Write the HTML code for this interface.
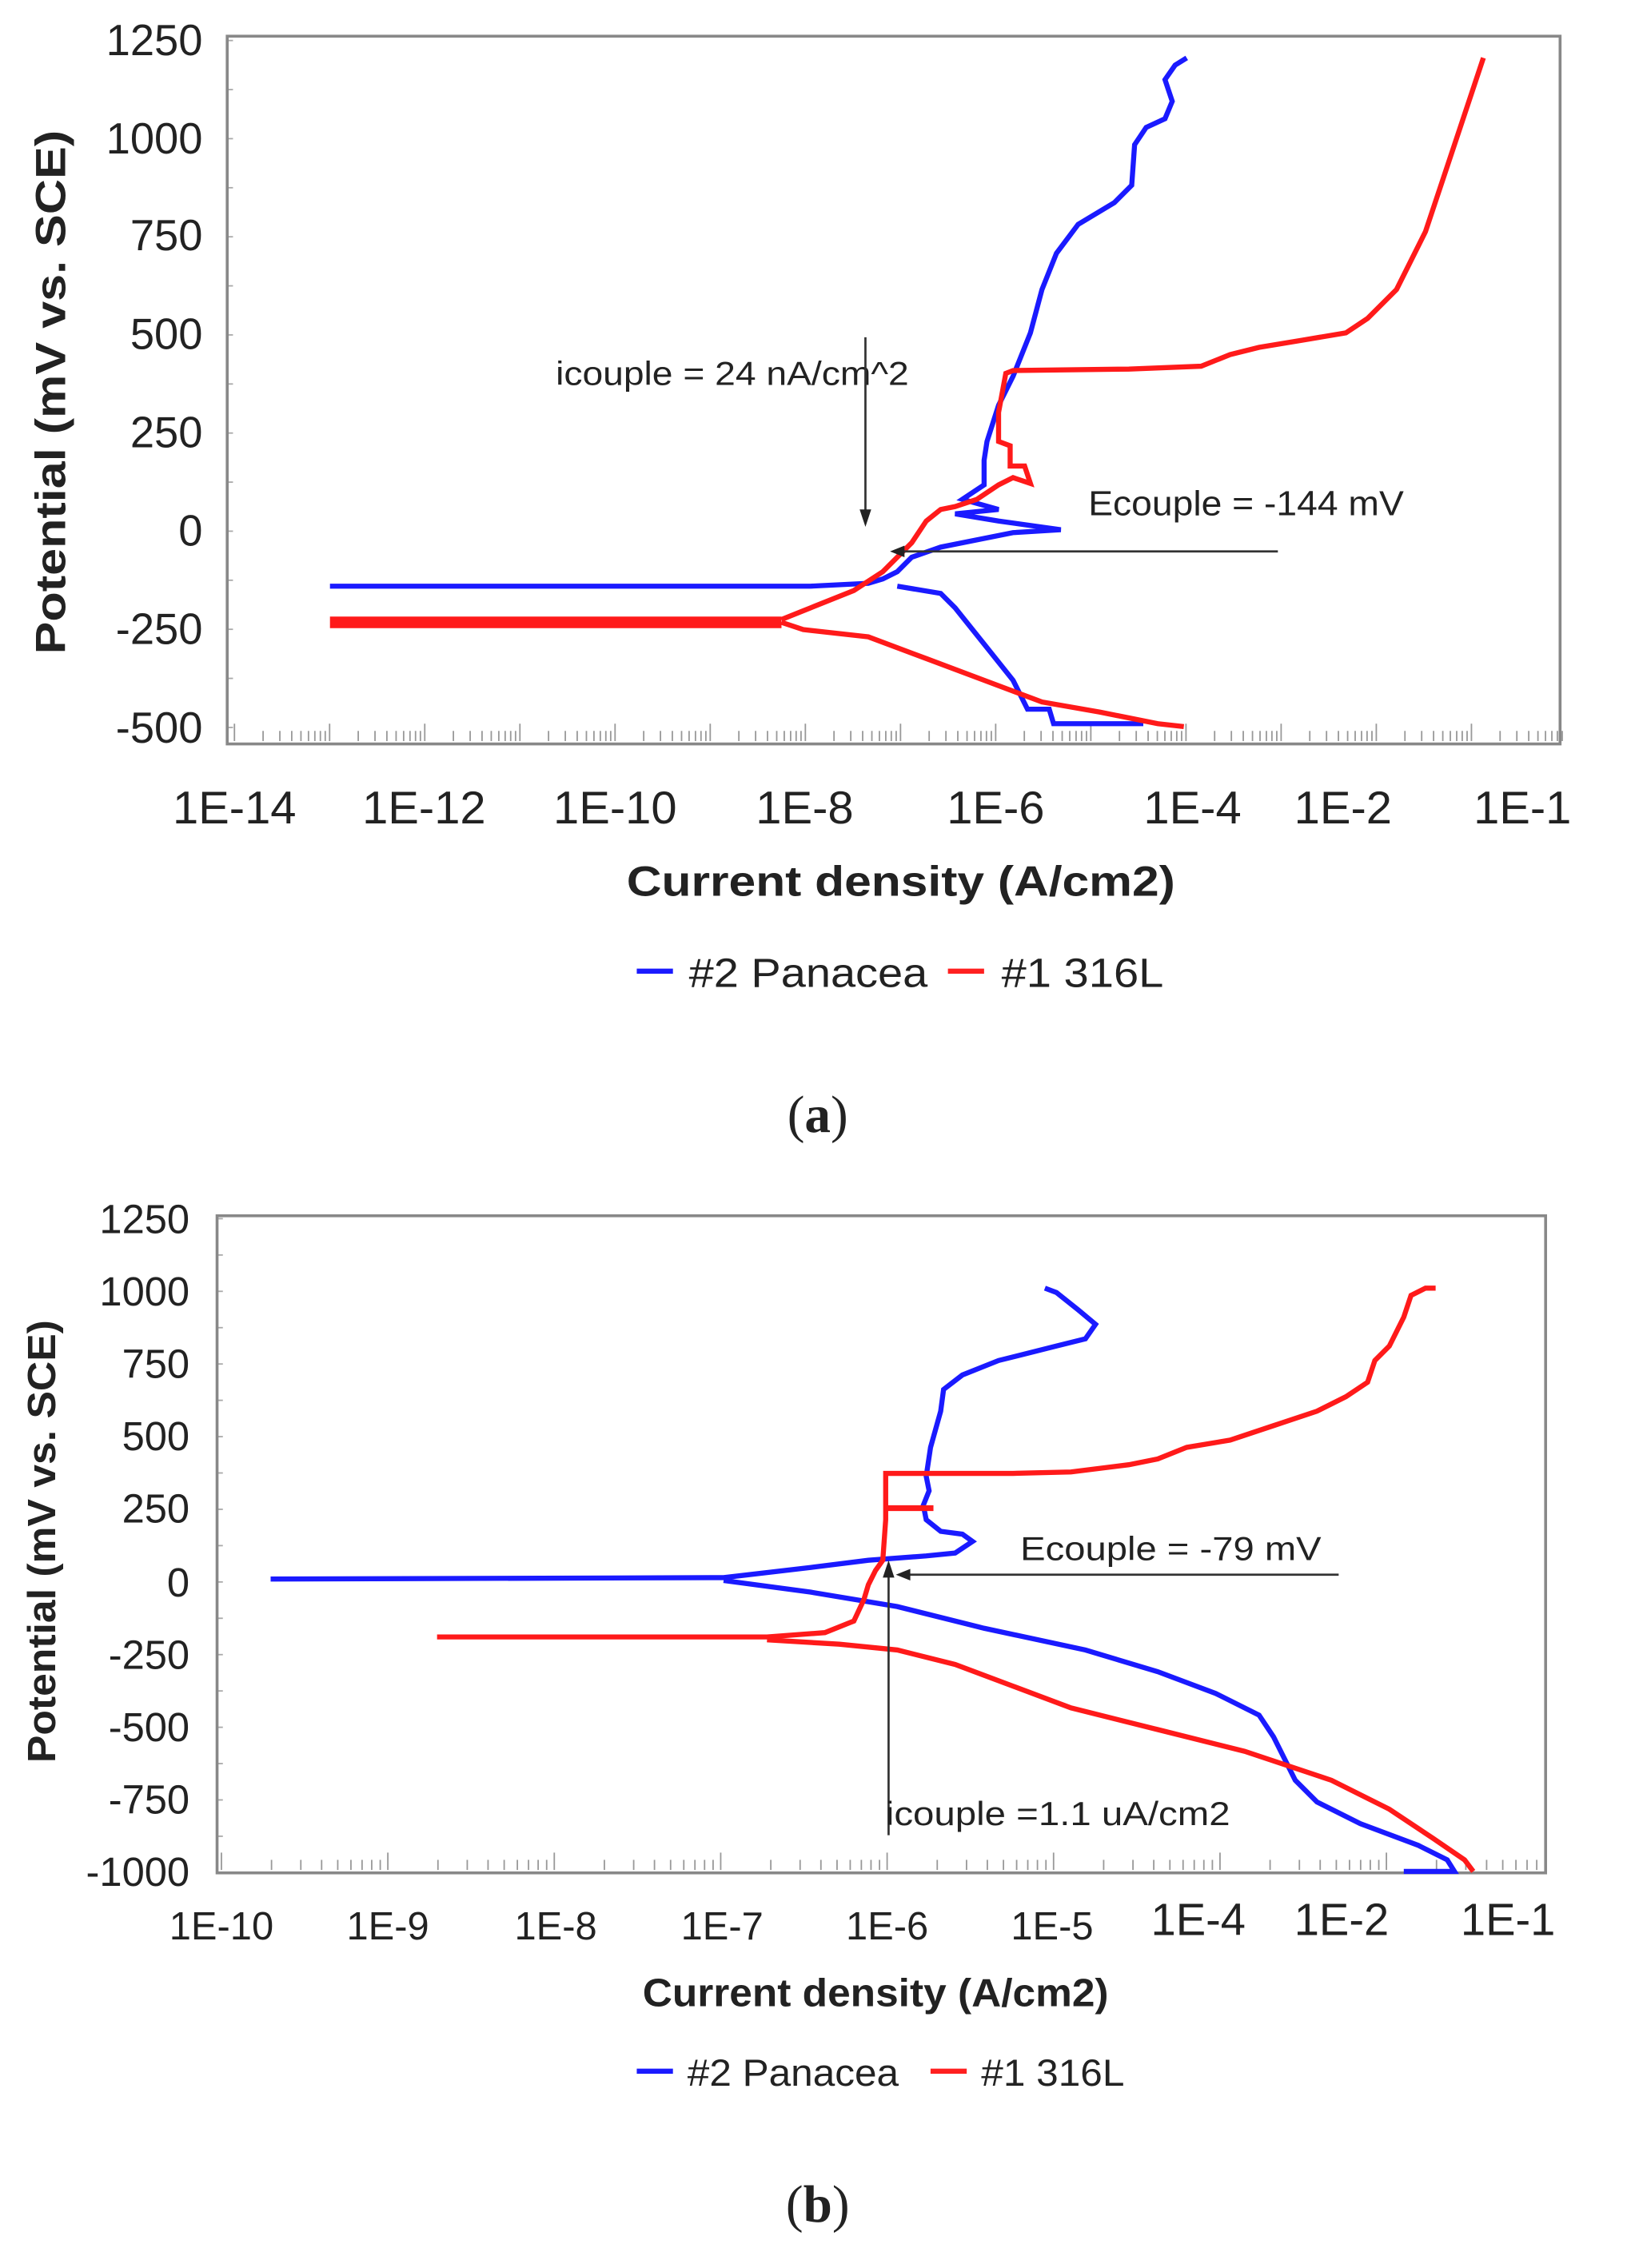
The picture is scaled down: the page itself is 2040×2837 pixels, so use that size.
<!DOCTYPE html>
<html><head><meta charset="utf-8"><style>
html,body{margin:0;padding:0;background:#fff;}
svg{display:block}
text{font-family:"Liberation Sans",Arial,sans-serif;fill:#222}
</style></head><body>
<svg width="2040" height="2837" viewBox="0 0 1127 1567" preserveAspectRatio="none" xmlns="http://www.w3.org/2000/svg">
<rect width="1127" height="1567" fill="#fff"/>
<g id="ticks"></g>
<!-- Plot A -->
<rect x="157" y="25" width="921" height="489" fill="none" stroke="#888" stroke-width="2"/>
<g font-size="30" text-anchor="end">
<text x="140" y="38">1250</text><text x="140" y="106">1000</text><text x="140" y="173">750</text>
<text x="140" y="241">500</text><text x="140" y="309">250</text><text x="140" y="377">0</text>
<text x="140" y="445">-250</text><text x="140" y="513">-500</text>
</g>
<text transform="translate(45,271) rotate(-90)" font-size="29" font-weight="bold" text-anchor="middle" textLength="362" lengthAdjust="spacingAndGlyphs">Potential (mV vs. SCE)</text>
<g font-size="32" text-anchor="middle">
<text x="162" y="569">1E-14</text><text x="293" y="569">1E-12</text><text x="425" y="569">1E-10</text>
<text x="556" y="569">1E-8</text><text x="688" y="569">1E-6</text><text x="824" y="569">1E-4</text>
<text x="928" y="569">1E-2</text><text x="1052" y="569">1E-1</text>
</g>
<text x="433" y="619" font-size="29" font-weight="bold" textLength="379" lengthAdjust="spacingAndGlyphs">Current density (A/cm2)</text>
<line x1="440" y1="671" x2="465" y2="671" stroke="#1a1aff" stroke-width="3.5"/>
<text x="476" y="682" font-size="28" textLength="165" lengthAdjust="spacingAndGlyphs">#2 Panacea</text>
<line x1="655" y1="671" x2="680" y2="671" stroke="#ff2020" stroke-width="3.5"/>
<text x="692" y="682" font-size="28" textLength="112" lengthAdjust="spacingAndGlyphs">#1 316L</text>
<text x="565" y="782" font-size="36" text-anchor="middle" style="font-family:'Liberation Serif',serif">(<tspan font-weight="bold">a</tspan>)</text>

<polyline fill="none" stroke="#ff1a1a" stroke-width="8" points="228,430 540,430"/>
<polyline fill="none" stroke="#1a1aff" stroke-width="3.5" points="228,405 560,405 600,403 610,400 620,395 630,385 650,378 680,372 700,368 733,366 690,360 660,355 690,352 665,345 680,335 680,318 682,305 690,280 700,260 712,230 720,200 730,175 745,155 770,140 782,128 784,100 792,88 805,82 810,70 805,55 812,45 820,40"/>
<polyline fill="none" stroke="#1a1aff" stroke-width="3.5" points="620,405 650,410 660,420 680,445 700,470 710,490 725,490 728,500 790,500"/>
<polyline fill="none" stroke="#ff1a1a" stroke-width="3.5" points="540,428 560,420 590,408 610,395 620,385 630,375 640,360 650,352 660,350 675,345 690,335 700,330 712,334 708,322 698,322 698,308 690,305 690,285 695,258 700,256 780,255 830,253 850,245 870,240 900,235 930,230 945,220 965,200 985,160 1000,115 1015,70 1025,40"/>
<polyline fill="none" stroke="#ff1a1a" stroke-width="3.5" points="540,430 555,435 600,440 640,455 680,470 720,485 760,492 800,500 818,502"/>
<text x="384" y="266" font-size="23" textLength="244" lengthAdjust="spacingAndGlyphs">icouple = 24 nA/cm^2</text>
<line x1="598" y1="233" x2="598" y2="358" stroke="#333" stroke-width="1.5"/>
<polygon points="594,352 602,352 598,364" fill="#222"/>
<text x="752" y="356" font-size="24" textLength="218" lengthAdjust="spacingAndGlyphs">Ecouple = -144 mV</text>
<line x1="622" y1="381" x2="883" y2="381" stroke="#333" stroke-width="1.5"/>
<polygon points="615,381 625,377 625,385" fill="#222"/>

<!-- Plot B -->
<rect x="150" y="840" width="918" height="454" fill="none" stroke="#888" stroke-width="2"/>
<g font-size="28" text-anchor="end">
<text x="131" y="852">1250</text><text x="131" y="902">1000</text><text x="131" y="952">750</text>
<text x="131" y="1002">500</text><text x="131" y="1052">250</text><text x="131" y="1103">0</text>
<text x="131" y="1153">-250</text><text x="131" y="1203">-500</text><text x="131" y="1253">-750</text>
<text x="131" y="1303">-1000</text>
</g>
<text transform="translate(38,1065) rotate(-90)" font-size="27" font-weight="bold" text-anchor="middle" textLength="306" lengthAdjust="spacingAndGlyphs">Potential (mV vs. SCE)</text>
<g font-size="27" text-anchor="middle">
<text x="153" y="1340">1E-10</text><text x="268" y="1340">1E-9</text><text x="384" y="1340">1E-8</text>
<text x="499" y="1340">1E-7</text><text x="613" y="1340">1E-6</text><text x="727" y="1340">1E-5</text>
</g>
<g font-size="31" text-anchor="middle">
<text x="828" y="1337">1E-4</text><text x="927" y="1337">1E-2</text><text x="1042" y="1337">1E-1</text>
</g>
<text x="444" y="1386" font-size="27" font-weight="bold" textLength="322" lengthAdjust="spacingAndGlyphs">Current density (A/cm2)</text>
<line x1="440" y1="1431" x2="465" y2="1431" stroke="#1a1aff" stroke-width="3.5"/>
<text x="475" y="1441" font-size="26" textLength="146" lengthAdjust="spacingAndGlyphs">#2 Panacea</text>
<line x1="643" y1="1431" x2="668" y2="1431" stroke="#ff2020" stroke-width="3.5"/>
<text x="678" y="1441" font-size="26" textLength="99" lengthAdjust="spacingAndGlyphs">#1 316L</text>
<text x="565" y="1535" font-size="36" text-anchor="middle" style="font-family:'Liberation Serif',serif">(<tspan font-weight="bold">b</tspan>)</text>

<polyline fill="none" stroke="#1a1aff" stroke-width="3.5" points="187,1091 500,1090 560,1083 600,1078 640,1075 660,1073 672,1065 665,1060 650,1058 640,1050 638,1040 642,1030 640,1020 643,1000 650,975 652,960 665,950 690,940 710,935 730,930 750,925 757,915 745,905 730,893 722,890"/>
<polyline fill="none" stroke="#1a1aff" stroke-width="3.5" points="500,1092 560,1100 620,1110 680,1125 750,1140 800,1155 840,1170 870,1185 880,1200 895,1230 910,1245 940,1260 980,1275 1000,1285 1005,1293 970,1293"/>
<polyline fill="none" stroke="#ff1a1a" stroke-width="3.5" points="302,1131 530,1131 570,1128 590,1120 597,1105 600,1095 605,1085 610,1078 612,1050 612,1018 700,1018 740,1017 780,1012 800,1008 820,1000 850,995 880,985 910,975 930,965 945,955 950,940 960,930 970,910 975,895 985,890 992,890"/>
<polyline fill="none" stroke="#ff1a1a" stroke-width="4" points="612,1042 645,1042"/>
<polyline fill="none" stroke="#ff1a1a" stroke-width="3.5" points="530,1133 580,1136 620,1140 660,1150 700,1165 740,1180 800,1195 860,1210 920,1230 960,1250 990,1270 1012,1285 1018,1293"/>
<text x="705" y="1078" font-size="23" textLength="208" lengthAdjust="spacingAndGlyphs">Ecouple = -79 mV</text>
<line x1="626" y1="1088" x2="925" y2="1088" stroke="#333" stroke-width="1.5"/>
<polygon points="619,1088 629,1084 629,1092" fill="#222"/>
<line x1="614" y1="1268" x2="614" y2="1084" stroke="#333" stroke-width="1.5"/>
<polygon points="610,1090 618,1090 614,1078" fill="#222"/>
<text x="612" y="1261" font-size="23" textLength="238" lengthAdjust="spacingAndGlyphs">icouple =1.1 uA/cm2</text>
</svg>
<script>
(function(){
var g=document.getElementById('ticks'),s='';
function xt(x0,dec,n,y){for(var d=0;d<n;d++){for(var k=1;k<10;k++){var x=x0+dec*(d+Math.log10(k));s+='<line x1="'+x+'" y1="'+y+'" x2="'+x+'" y2="'+(y-(k==1?12:7))+'" stroke="#999" stroke-width="1"/>';}}}
xt(162,65.75,14,512);
xt(153,115,8,1292);
function yt(x,y0,y1,st){for(var y=y0;y<=y1;y+=st){s+='<line x1="'+x+'" y1="'+y+'" x2="'+(x+4)+'" y2="'+y+'" stroke="#aaa" stroke-width="1"/>';}}
yt(157,28,503,33.9);
yt(150,842,1293,25.1);
g.innerHTML=s;
})();
</script>
</body></html>
